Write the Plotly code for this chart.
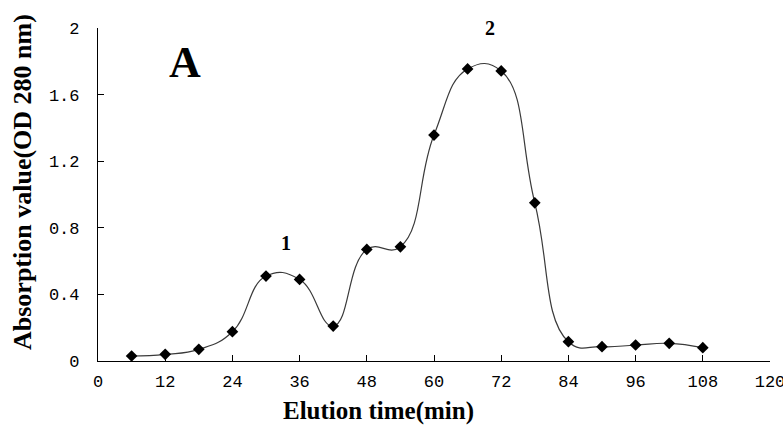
import plotly.graph_objects as go

time_min = [6, 12, 18, 24, 30, 36, 42, 48, 54, 60, 66, 72, 78, 84, 90, 96, 102, 108]
absorbance = [0.03, 0.04, 0.07, 0.176, 0.51, 0.49, 0.21, 0.67, 0.686, 1.357, 1.754, 1.742,
              0.95, 0.116, 0.086, 0.096, 0.106, 0.08]
x_ticks = [0, 12, 24, 36, 48, 60, 72, 84, 96, 108, 120]
y_ticks = [0, 0.4, 0.8, 1.2, 1.6, 2]
peak_labels = [("1", 33.5, 0.71), ("2", 70, 2.0)]

fig = go.Figure()
fig.add_trace(go.Scatter(
    x=time_min, y=absorbance, mode="lines+markers",
    line=dict(shape="spline", smoothing=1.3, color="#3a3a3a", width=1.2),
    marker=dict(symbol="diamond", size=9, color="black"),
    cliponaxis=False, showlegend=False,
))

tick_font = dict(family="Liberation Mono", size=17, color="black")
fig.update_xaxes(range=[0, 120], tickvals=x_ticks, ticks="inside", ticklen=6,
                 tickcolor="black", showline=True, linecolor="black", linewidth=1.2,
                 showgrid=False, zeroline=False, tickfont=tick_font, ticklabelstandoff=4,
                 automargin=False, ticklabeloverflow="allow")
fig.update_yaxes(range=[0, 2], tickvals=y_ticks, ticktext=["0", "0.4", "0.8", "1.2", "1.6", "2"],
                 ticks="inside", ticklen=6, tickcolor="black", showline=True,
                 linecolor="black", linewidth=1.2, showgrid=False, zeroline=False,
                 tickfont=tick_font, ticklabelstandoff=14, automargin=False,
                 ticklabeloverflow="allow")

serif = "Liberation Serif"
W, H, L, T = 672, 333, 98, 28


def px(x, y):
    return (x - L) / W, (T + H - y) / H


ax_x, ax_y = px(378, 411)
fig.add_annotation(text="<b>Elution time(min)</b>", xref="paper", yref="paper",
                   x=ax_x, y=ax_y, xanchor="center", yanchor="middle", showarrow=False,
                   font=dict(family=serif, size=25, color="black"))
ay_x, ay_y = px(22, 182)
fig.add_annotation(text="<b>Absorption value(OD 280 nm)</b>", xref="paper", yref="paper",
                   x=ay_x, y=ay_y, xanchor="center", yanchor="middle", textangle=-90,
                   showarrow=False, font=dict(family=serif, size=26, color="black"))
a_x, a_y = px(185, 63)
fig.add_annotation(text="<b>A</b>", xref="paper", yref="paper", x=a_x, y=a_y,
                   xanchor="center", yanchor="middle", showarrow=False,
                   font=dict(family=serif, size=44, color="black"))
for txt, xv, yv in peak_labels:
    fig.add_annotation(text=f"<b>{txt}</b>", x=xv, y=yv, xanchor="center", yanchor="middle",
                       showarrow=False, font=dict(family=serif, size=20, color="black"))

fig.update_layout(width=783, height=428, plot_bgcolor="white", paper_bgcolor="white",
                  margin=dict(l=L, r=783 - L - W, t=T, b=428 - T - H))
fig.write_html("out.html", config={"displayModeBar": False},
               post_script="document.body.style.margin='0';")
